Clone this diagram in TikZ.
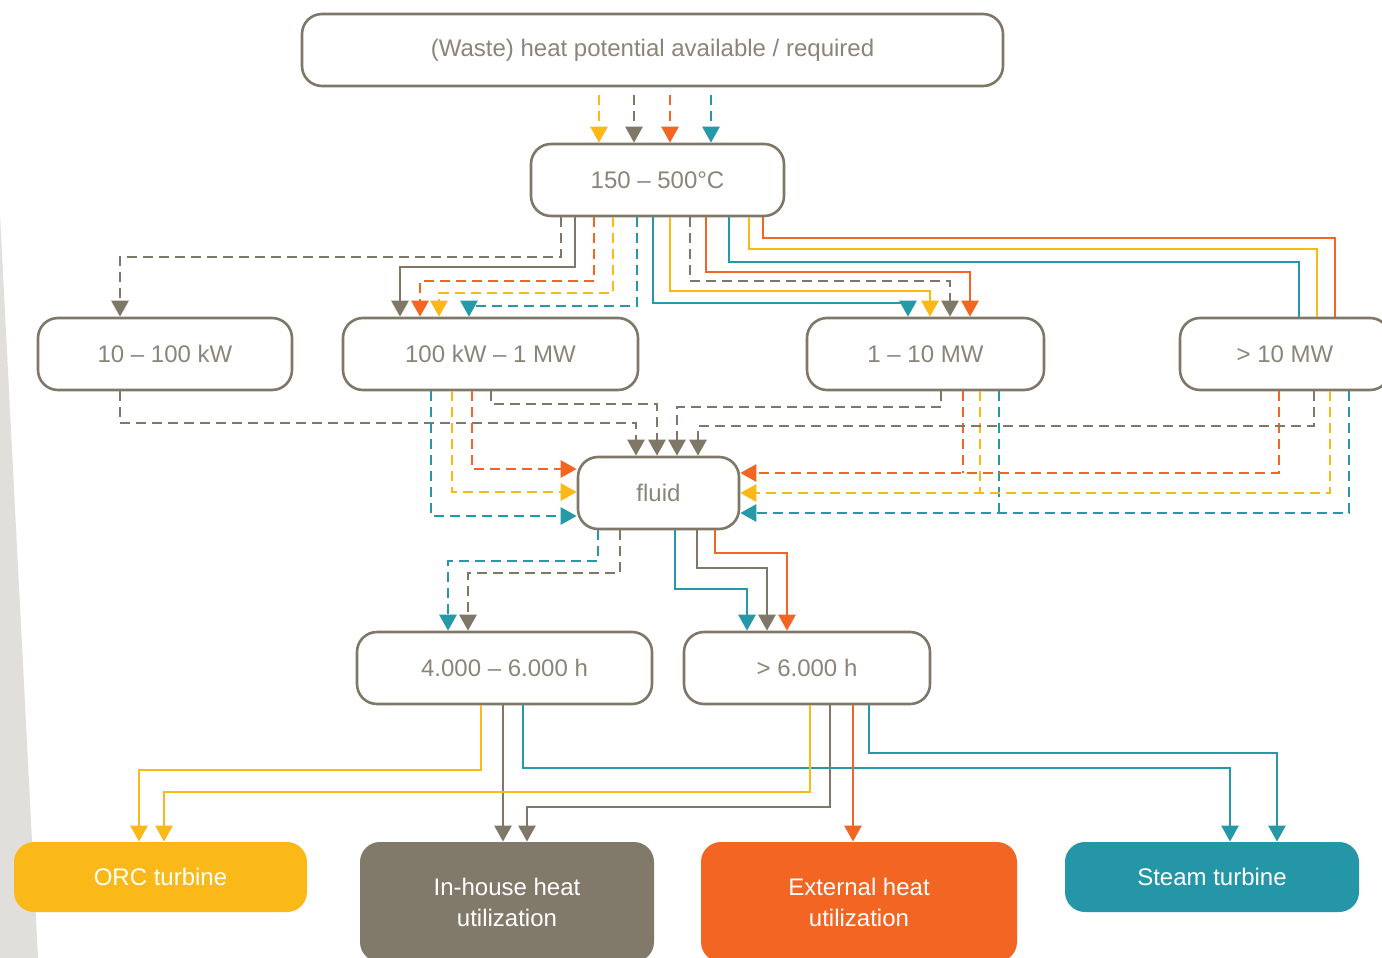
\documentclass[tikz,border=0pt]{standalone}
\usepackage{fontspec}
\setmainfont{Liberation Sans}
\usetikzlibrary{arrows.meta}
\definecolor{cY}{HTML}{FBB817}
\definecolor{cG}{HTML}{7F7869}
\definecolor{cO}{HTML}{F26522}
\definecolor{cT}{HTML}{2699A9}
\definecolor{cTx}{HTML}{8B8579}
\definecolor{cBg}{HTML}{E0DFDC}
\definecolor{fY}{HTML}{FBB919}
\definecolor{fG}{HTML}{81796A}
\definecolor{fO}{HTML}{F26522}
\definecolor{fT}{HTML}{2596A8}
\begin{document}
\begin{tikzpicture}[x=0.5pt,y=-0.5pt,
  box/.style={draw=cG, line width=1.3pt, rounded corners=10pt, fill=white, text=cTx,
    font=\fontsize{12}{15.5}\selectfont, inner sep=0pt, minimum height=36pt},
  fbox/.style={rounded corners=10pt, text=white, align=center,
    font=\fontsize{12}{15.5}\selectfont, inner sep=0pt},
  con/.style={line width=1.35pt, -{Triangle[width=8.5pt,length=8pt]}},
  lnk/.style={line width=1.35pt},
  dsh/.style={dash pattern=on 5pt off 3pt}
]
\useasboundingbox (0,0) rectangle (1382,958);
\fill[white] (0,0) rectangle (1382,958);
\fill[cBg] (0,215) -- (38,958) -- (0,958) -- cycle;

% boxes
\node[box, minimum width=350.5pt] (top) at (652.5,50) {(Waste) heat potential available / required};
\node[box, minimum width=126.5pt] (b150) at (657.5,180) {150 -- 500°C};
\node[box, minimum width=127pt] (k10) at (165,354) {10 -- 100 kW};
\node[box, minimum width=147.5pt] (k100) at (490.5,354) {100 kW -- 1 MW};
\node[box, minimum width=118.5pt] (m1) at (925.5,354) {1 -- 10 MW};
\node[box, minimum width=105pt] (m10) at (1285,354) {> 10 MW};
\node[box, minimum width=80.5pt] (fluid) at (658.5,493) {fluid};
\node[box, minimum width=147.5pt] (h4) at (504.5,668) {4.000 -- 6.000 h};
\node[box, minimum width=123pt] (h6) at (807,668) {> 6.000 h};
\node[fbox, fill=fY, minimum width=146.5pt, minimum height=35pt] (orc) at (160.5,877) {ORC turbine};
\node[fbox, fill=fG, minimum width=147pt, minimum height=60pt] (inh) at (507,902) {In-house heat\\utilization};
\node[fbox, fill=fO, minimum width=158pt, minimum height=60pt] (ext) at (859,902) {External heat\\utilization};
\node[fbox, fill=fT, minimum width=147pt, minimum height=35pt] (steam) at (1212,877) {Steam turbine};

% junctions where the 1-10 MW lines join the > 10 MW lines
\coordinate (jO) at (963,473);
\coordinate (jY) at (980,493);
\coordinate (jT) at (999,513);

% top -> 150
\draw[con,dsh,cY] ([yshift=-4pt]top.south -| 599,0) -- (b150.north -| 599,0);
\draw[con,dsh,cG] ([yshift=-4pt]top.south -| 634,0) -- (b150.north -| 634,0);
\draw[con,dsh,cO] ([yshift=-4pt]top.south -| 670,0) -- (b150.north -| 670,0);
\draw[con,dsh,cT] ([yshift=-4pt]top.south -| 711,0) -- (b150.north -| 711,0);

% 150 -> 10-100 kW
\draw[con,dsh,cG] (b150.south -| 561,0) |- (120,257) -- (k10.north -| 120,0);
% 150 -> 100 kW - 1 MW
\draw[con,cG] (b150.south -| 575,0) |- (400,267) -- (k100.north -| 400,0);
\draw[con,dsh,cO] (b150.south -| 594,0) |- (420,281) -- (k100.north -| 420,0);
\draw[con,dsh,cY] (b150.south -| 613,0) |- (439,293) -- (k100.north -| 439,0);
\draw[con,dsh,cT] (b150.south -| 637,0) |- (469,306) -- (k100.north -| 469,0);
% 150 -> 1-10 MW
\draw[con,cT] (b150.south -| 653,0) |- (908,303) -- (m1.north -| 908,0);
\draw[con,cY] (b150.south -| 670,0) |- (930,291) -- (m1.north -| 930,0);
\draw[con,dsh,cG] (b150.south -| 690,0) |- (950,281) -- (m1.north -| 950,0);
\draw[con,cO] (b150.south -| 706,0) |- (970,272) -- (m1.north -| 970,0);
% 150 -> >10 MW
\draw[lnk,cT] (b150.south -| 729,0) |- (1299,262) -- (m10.north -| 1299,0);
\draw[lnk,cY] (b150.south -| 749,0) |- (1317,249) -- (m10.north -| 1317,0);
\draw[lnk,cO] (b150.south -| 763,0) |- (1335,238) -- (m10.north -| 1335,0);

% power -> fluid
\draw[con,dsh,cG] (k10.south -| 120,0) |- (636,423) -- (fluid.north -| 636,0);
\draw[con,dsh,cT] (k100.south -| 431,0) |- (fluid.west |- 0,516);
\draw[con,dsh,cY] (k100.south -| 452,0) |- (fluid.west |- 0,492);
\draw[con,dsh,cO] (k100.south -| 472,0) |- (fluid.west |- 0,469);
\draw[con,dsh,cG] (k100.south -| 491,0) |- (657,404) -- (fluid.north -| 657,0);
\draw[con,dsh,cG] (m1.south -| 941,0) |- (677,407) -- (fluid.north -| 677,0);
\draw[lnk,dsh,cO] (m1.south -| jO) -- (jO);
\draw[lnk,dsh,cY] (m1.south -| jY) -- (jY);
\draw[lnk,dsh,cT] (m1.south -| jT) -- (jT);
\draw[con,dsh,cO] (m10.south -| 1279,0) |- (fluid.east |- jO);
\draw[con,dsh,cG] (m10.south -| 1314,0) |- (698,426) -- (fluid.north -| 698,0);
\draw[con,dsh,cY] (m10.south -| 1330,0) |- (fluid.east |- jY);
\draw[con,dsh,cT] (m10.south -| 1349,0) |- (fluid.east |- jT);

% fluid -> hours
\draw[con,dsh,cT] (fluid.south -| 598,0) |- (448,561) -- (h4.north -| 448,0);
\draw[con,dsh,cG] (fluid.south -| 620,0) |- (468,573) -- (h4.north -| 468,0);
\draw[con,cT] (fluid.south -| 675,0) |- (747,589) -- (h6.north -| 747,0);
\draw[con,cG] (fluid.south -| 697,0) |- (767,568) -- (h6.north -| 767,0);
\draw[con,cO] (fluid.south -| 715,0) |- (787,553) -- (h6.north -| 787,0);

% hours -> outputs
\draw[con,cY] (h4.south -| 481,0) |- (139,770) -- (orc.north -| 139,0);
\draw[con,cG] (h4.south -| 503,0) -- (inh.north -| 503,0);
\draw[con,cT] (h4.south -| 523,0) |- (1230,768) -- (steam.north -| 1230,0);
\draw[con,cY] (h6.south -| 810,0) |- (164,792) -- (orc.north -| 164,0);
\draw[con,cG] (h6.south -| 830,0) |- (527,807) -- (inh.north -| 527,0);
\draw[con,cO] (h6.south -| 853,0) -- (ext.north -| 853,0);
\draw[con,cT] (h6.south -| 869,0) |- (1277,753) -- (steam.north -| 1277,0);
\end{tikzpicture}
\end{document}
